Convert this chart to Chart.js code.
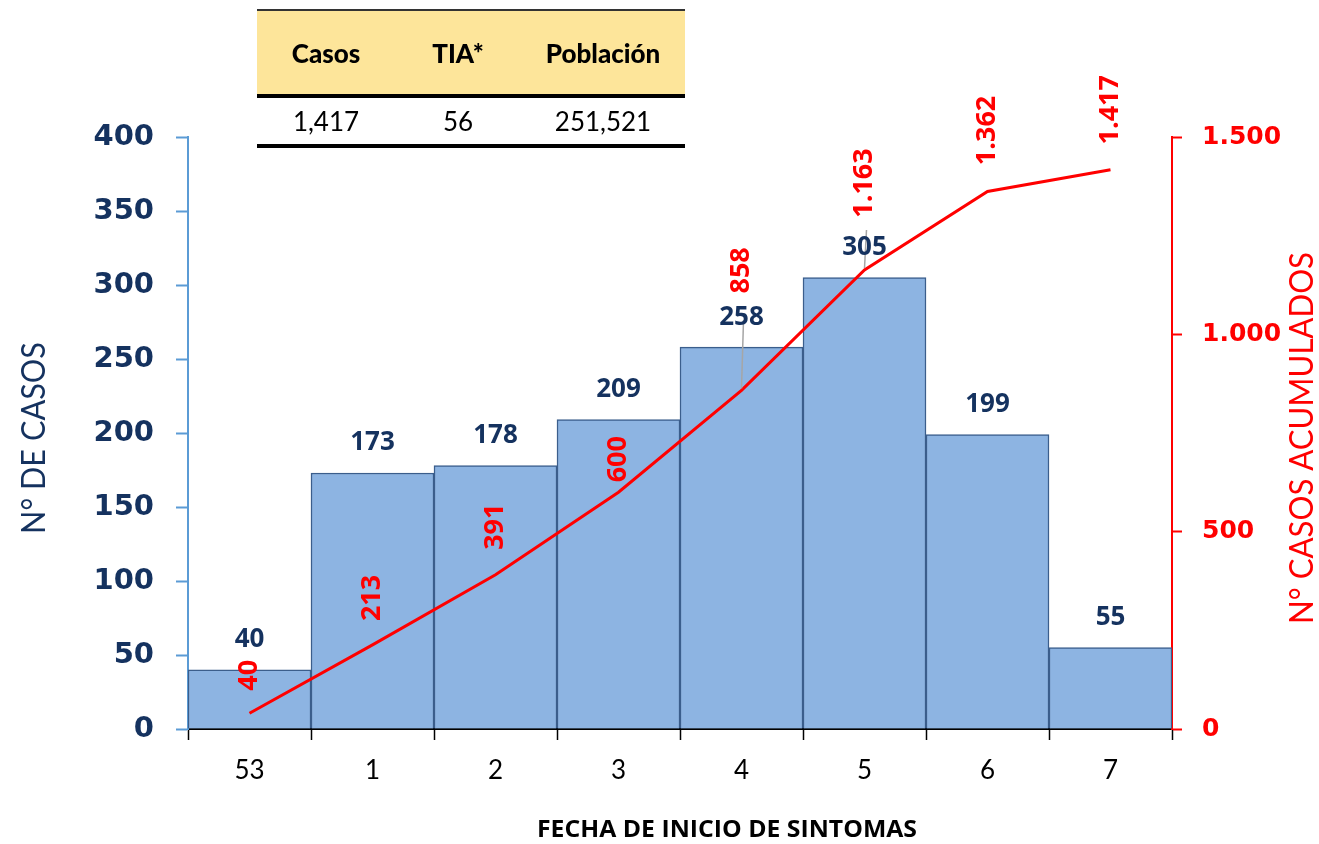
<!DOCTYPE html>
<html>
<head>
<meta charset="utf-8">
<script src="https://cdn.jsdelivr.net/npm/chart.js@4"></script>
<style>
  body { margin: 0; background: #fff; }
  #wrap { position: relative; width: 1319px; height: 844px; }
  .tb { position: absolute; left: 257px; width: 428px; }
  .cell { position: absolute; text-align: center; font-family: Lato, sans-serif; font-size: 26px; color: #000; }
</style>
</head>
<body>
<div id="wrap">
  <canvas id="chart"></canvas>
  <div id="table"></div>
</div>
<script>
const weeks = ['53', '1', '2', '3', '4', '5', '6', '7'];
const cases = [40, 173, 178, 209, 258, 305, 199, 55];
const cumulative = [40, 213, 391, 600, 858, 1163, 1362, 1417];

const tableHead = ['Casos', 'TIA*', 'Población'];
const tableRow = ['1,417', '56', '251,521'];

// where the red labels sit: pixels above each point, and leader line length
const cumLabelLift = [38, 47, 48, 33, 120, 87, 61, 60];
const cumLeader = [0, 0, 0, 0, 70, 40, 0, 0];

const NAVY = '#15325F';
const RED = '#FF0000';

const fmt = v => String(v).replace(/\B(?=(\d{3})+(?!\d))/g, '.');

// summary table
const tbl = document.getElementById('table');
const colCenters = [69, 201, 346];
tbl.innerHTML =
  '<div class="tb" style="top:9px;height:2px;background:#333"></div>' +
  '<div class="tb" style="top:11px;height:83px;background:#FDE59A"></div>' +
  '<div class="tb" style="top:94px;height:4px;background:#000"></div>' +
  '<div class="tb" style="top:144px;height:4px;background:#000"></div>';
tableHead.forEach((t, i) => {
  tbl.innerHTML += `<div class="cell" style="left:${257 + colCenters[i] - 80}px;width:160px;top:37px;font-weight:900">${t}</div>`;
  tbl.innerHTML += `<div class="cell" style="left:${257 + colCenters[i] - 80}px;width:160px;top:105px">${tableRow[i]}</div>`;
});

function fitText(ctx, text, x, y, width, rot) {
  ctx.save();
  ctx.translate(x, y);
  ctx.rotate(rot);
  const w = ctx.measureText(text).width;
  ctx.scale(width / w, 1);
  ctx.fillText(text, 0, 0);
  ctx.restore();
}

const extras = {
  id: 'extras',
  afterDatasetsDraw(chart) {
    const ctx = chart.ctx;
    const bars = chart.getDatasetMeta(0).data;
    const pts = chart.getDatasetMeta(1).data;
    ctx.save();
    ctx.textAlign = 'center';
    ctx.textBaseline = 'middle';

    // leader lines
    ctx.strokeStyle = '#A6A6A6';
    ctx.lineWidth = 1.5;
    pts.forEach((p, i) => {
      if (!cumLeader[i]) return;
      ctx.beginPath();
      ctx.moveTo(p.x, p.y - 2);
      ctx.lineTo(p.x + 2, p.y - cumLeader[i]);
      ctx.stroke();
    });

    // bar values
    ctx.font = 'bold 26px "Open Sans"';
    ctx.fillStyle = NAVY;
    bars.forEach((b, i) => ctx.fillText(cases[i], b.x, b.y - 30));

    // cumulative values, vertical
    ctx.font = 'bold 27px "Open Sans"';
    ctx.fillStyle = RED;
    pts.forEach((p, i) => {
      ctx.save();
      ctx.translate(p.x, p.y - cumLabelLift[i]);
      ctx.rotate(-Math.PI / 2);
      ctx.fillText(fmt(cumulative[i]), 0, 0);
      ctx.restore();
    });

    // axis titles
    ctx.font = '33px Lato';
    ctx.fillStyle = NAVY;
    fitText(ctx, 'N° DE CASOS', 34, 438, 192, -Math.PI / 2);
    ctx.fillStyle = RED;
    fitText(ctx, 'N° CASOS ACUMULADOS', 1302, 438, 372, -Math.PI / 2);
    ctx.font = 'bold 23px "Open Sans"';
    ctx.fillStyle = '#000';
    fitText(ctx, 'FECHA DE INICIO DE SINTOMAS', 727, 830, 380, 0);
    ctx.restore();
  }
};

new Chart(document.getElementById('chart'), {
  data: {
    labels: weeks,
    datasets: [
      {
        type: 'bar',
        data: cases,
        yAxisID: 'y',
        backgroundColor: '#8DB4E2',
        borderColor: '#3B5E8C',
        borderWidth: 1.5,
        barPercentage: 1,
        categoryPercentage: 1,
        order: 1
      },
      {
        type: 'line',
        data: cumulative,
        yAxisID: 'y2',
        borderColor: RED,
        borderWidth: 3,
        pointRadius: 0,
        tension: 0,
        order: 0
      }
    ]
  },
  options: {
    responsive: true,
    maintainAspectRatio: false,
    animation: false,
    layout: { padding: { top: 137, left: 0, right: 0, bottom: 0 } },
    plugins: { legend: { display: false }, tooltip: { enabled: false } },
    scales: {
      x: {
        grid: { offset: true, drawOnChartArea: false, tickColor: '#000', tickLength: 11, tickWidth: 1.5 },
        border: { color: '#000', width: 2 },
        ticks: { font: { family: 'Lato', size: 26 }, color: '#000', padding: 15 },
        afterFit(s) { s.height = 115; }
      },
      y: {
        position: 'left',
        min: 0,
        max: 400,
        ticks: { stepSize: 50, font: { family: 'DejaVu Sans', size: 29, weight: 'bold' }, color: NAVY, padding: 22 },
        grid: { drawOnChartArea: false, tickColor: '#5B9BD5', tickLength: 12, tickWidth: 2 },
        border: { color: '#5B9BD5', width: 2 },
        afterFit(s) { s.width = 188; }
      },
      y2: {
        position: 'right',
        min: 0,
        max: 1500,
        ticks: { stepSize: 500, callback: v => fmt(v), font: { family: 'DejaVu Sans', size: 25, weight: 'bold' }, color: RED, padding: 20 },
        grid: { drawOnChartArea: false, tickColor: RED, tickLength: 10, tickWidth: 2 },
        border: { color: RED, width: 2 },
        afterFit(s) { s.width = 147; }
      }
    }
  },
  plugins: [extras]
});
</script>
</body>
</html>
